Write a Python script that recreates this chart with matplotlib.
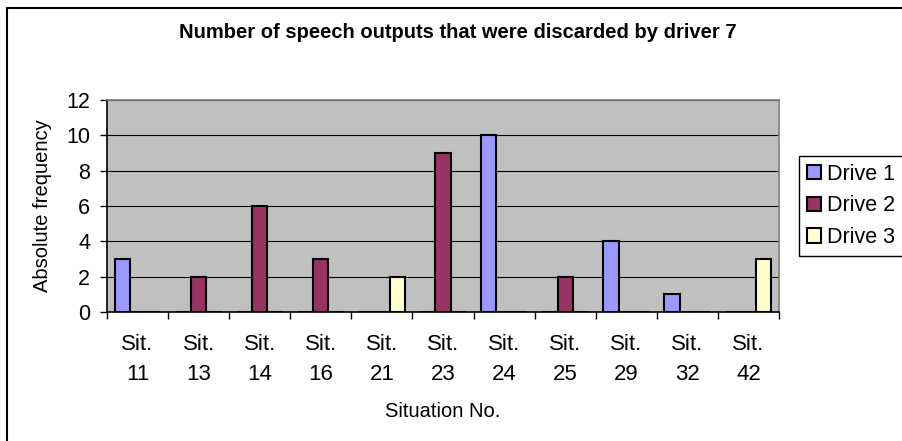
import numpy as np
import matplotlib
matplotlib.use("Agg")
import matplotlib.pyplot as plt
from matplotlib.lines import Line2D

plt.rcParams['font.family'] = ['Liberation Sans', 'DejaVu Sans']

situations = ["Sit.\n11", "Sit.\n13", "Sit.\n14", "Sit.\n16", "Sit.\n21", "Sit.\n23",
              "Sit.\n24", "Sit.\n25", "Sit.\n29", "Sit.\n32", "Sit.\n42"]
drive_1 = [3, 0, 0, 0, 0, 0, 10, 0, 4, 1, 0]
drive_2 = [0, 2, 6, 3, 0, 9, 0, 2, 0, 0, 0]
drive_3 = [0, 0, 0, 0, 2, 0, 0, 0, 0, 0, 3]
series_names = ["Drive 1", "Drive 2", "Drive 3"]
colors = ["#9999FF", "#993366", "#FFFFCC"]

W, H = 902, 441
fig = plt.figure(figsize=(W / 100, H / 100), dpi=100)
ax = fig.add_axes([107 / W, 1 - 312 / H, (779 - 107) / W, (312 - 100) / H])
ax.set_facecolor("#C0C0C0")

x = np.arange(len(situations))
w = 0.25
for i, (vals, name, c) in enumerate(zip([drive_1, drive_2, drive_3], series_names, colors)):
    ax.bar(x + (i - 1) * w, vals, width=w, color=c, edgecolor="black",
           linewidth=1.5, label=name, zorder=3)

ax.set_xlim(-0.5, len(situations) - 0.5)
ax.set_ylim(0, 12)
ax.set_yticks(range(0, 13, 2))
ax.grid(axis="y", color="black", linewidth=0.8, zorder=1)

ax.set_xticks(x)
ax.set_xticklabels(situations, fontsize=16, linespacing=1.55)
ax.set_xticks(np.arange(-0.5, len(situations), 1), minor=True)
ax.tick_params(axis="x", which="major", length=0, pad=16)
ax.tick_params(axis="x", which="minor", length=5, width=1, direction="out")
ax.tick_params(axis="y", length=5, width=1, direction="out", pad=7, labelsize=15.5)

for side in ["top", "right"]:
    ax.spines[side].set_color("#808080")
    ax.spines[side].set_linewidth(1.2)
for side in ["left", "bottom"]:
    ax.spines[side].set_color("black")
    ax.spines[side].set_linewidth(1.2)

ax.set_xlabel("Situation No.", fontsize=14.5, labelpad=12)
ax.set_ylabel("Absolute frequency", fontsize=14.5, labelpad=10)

fig.text(458 / W, 1 - 33 / H, "Number of speech outputs that were discarded by driver 7",
         ha="center", va="center", fontsize=14.5, fontweight="bold")

leg = ax.legend(loc="upper left", bbox_to_anchor=(799 / W, 1 - 156 / H),
                bbox_transform=fig.transFigure, fontsize=15.5, frameon=True,
                fancybox=False, edgecolor="black", framealpha=1,
                handlelength=0.65, handleheight=0.65, handletextpad=0.3,
                labelspacing=0.5, borderpad=0.35, borderaxespad=0)
leg.get_frame().set_linewidth(1)

# outer chart border
fig.add_artist(Line2D([7.5 / W, 7.5 / W], [0, 1 - 8 / H], color="black", linewidth=1.5))
fig.add_artist(Line2D([7.5 / W, 1], [1 - 8 / H, 1 - 8 / H], color="black", linewidth=1.5))

fig.savefig("out.png", dpi=100)
